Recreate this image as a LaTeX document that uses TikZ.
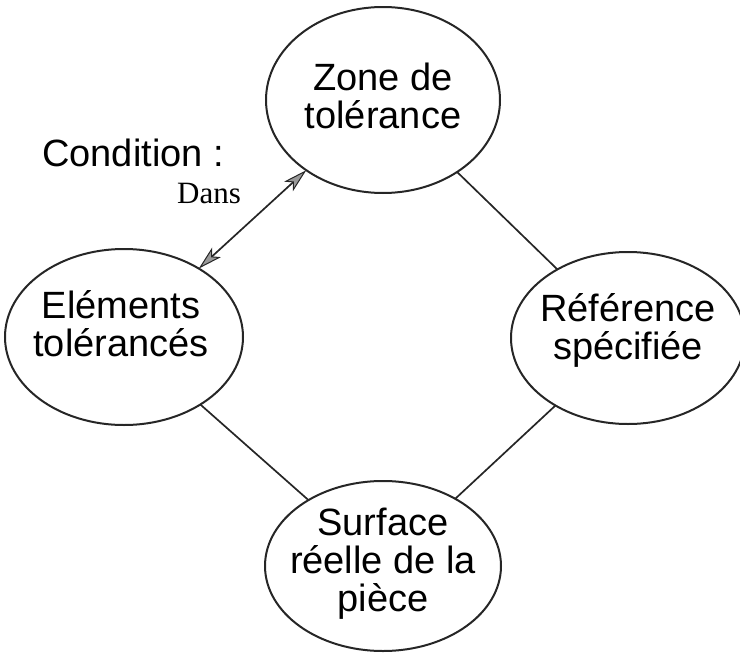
\documentclass[tikz,border=0pt]{standalone}
\usepackage{fontspec}
\setmainfont{Liberation Sans}
\newfontfamily\serifface{Liberation Serif}
\usetikzlibrary{shapes.geometric,arrows.meta}
\begin{document}
\begin{tikzpicture}[x=1pt,y=-1pt,
  ell/.style={draw=black!85,line width=2pt,ellipse,inner sep=0pt},
  txt/.style={align=center,font=\fontsize{38}{38}\selectfont,inner sep=0pt},
  link/.style={draw=black!85,line width=1.7pt,shorten <=-1pt,shorten >=-1pt},
  both/.style={{Stealth[length=24pt,width=13pt,inset=6pt,fill=black!40,line width=1pt]}-{Stealth[length=24pt,width=13pt,inset=6pt,fill=black!40,line width=1pt]}}]
\useasboundingbox (0,0) rectangle (740,656);
\node[ell,minimum width=234pt,minimum height=186pt] (zone) at (383,100) {};
\node[ell,minimum width=238pt,minimum height=176pt] (elem) at (124,337) {};
\node[ell,minimum width=234pt,minimum height=172pt] (ref) at (628,338) {};
\node[ell,minimum width=236pt,minimum height=170pt] (surf) at (383,566) {};
\node[txt] (zonet) at (383,96) {Zone de\\tolérance};
\node[txt] (elemt) at (121,324) {Eléments\\tolérancés};
\node[txt] (reft) at (628,330) {Référence\\spécifiée};
\node[txt] (surft) at (383,564) {Surface\\réelle de la\\pièce};
\node[anchor=base west,inner sep=0pt,font=\fontsize{38}{38}\selectfont] (cond) at (42,166) {Condition :};
\node[anchor=base west,inner sep=0pt,font=\serifface\fontsize{31}{31}\selectfont] (dans) at (177,203) {Dans};
\draw[link,both] (elem) -- (zone);
\draw[link] (zone) -- (ref);
\draw[link] (ref) -- (surf);
\draw[link] (elem) -- (surf);
\end{tikzpicture}
\end{document}
